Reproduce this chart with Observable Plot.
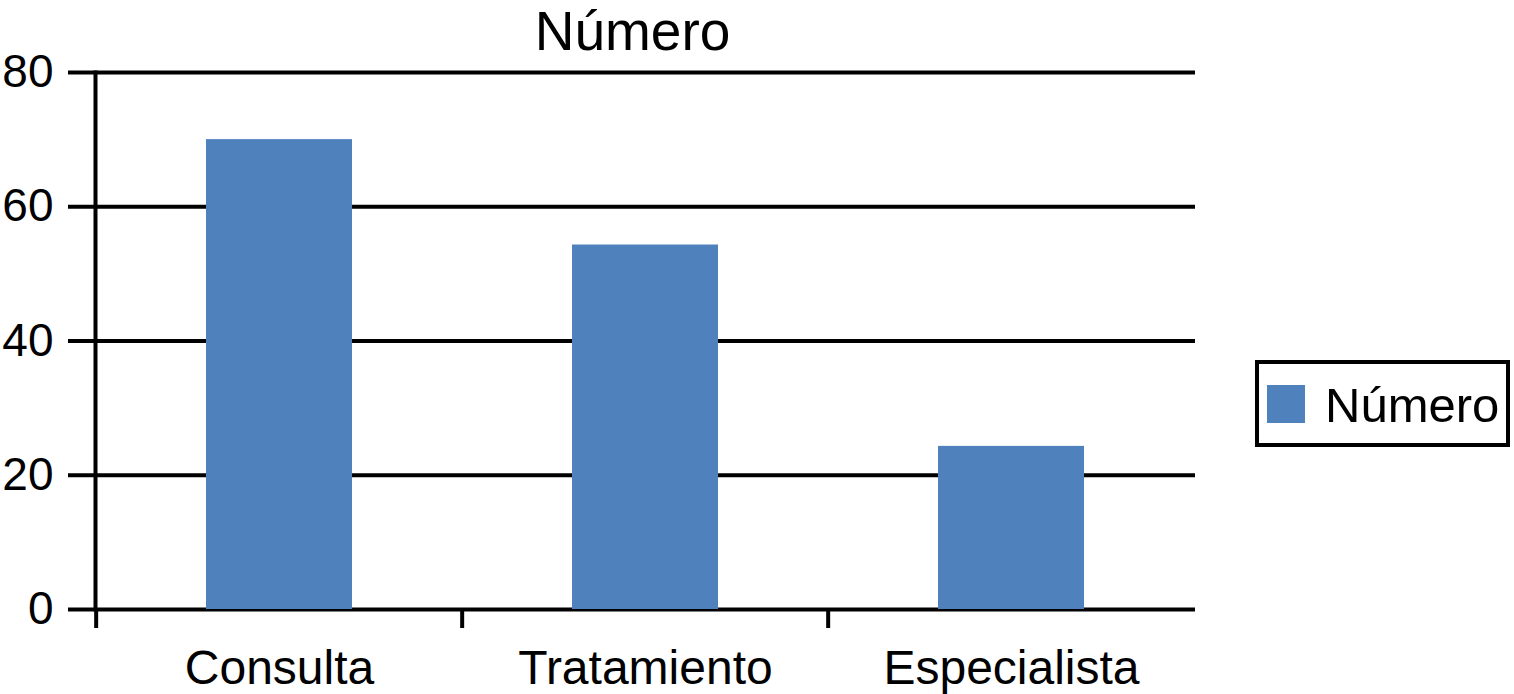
<!DOCTYPE html>
<html>
<head>
<meta charset="utf-8">
<script src="https://cdn.jsdelivr.net/npm/d3@7"></script>
<script src="https://cdn.jsdelivr.net/npm/@observablehq/plot@0.6"></script>
<style>
  html, body { margin: 0; padding: 0; background: #fff; }
  #wrap { position: relative; width: 1514px; height: 694px; font-family: "Liberation Sans", Arial, Helvetica, sans-serif; overflow: hidden; }
  #legend { position: absolute; left: 1255px; top: 360px; width: 247px; height: 79px; border: 4px solid #000; box-sizing: content-box; }
  #legend .sw { position: absolute; left: 8px; top: 21px; width: 38px; height: 38px; background: #4f81bd; }
  #legend .lb { position: absolute; left: 66px; top: 13px; font-size: 49px; line-height: 56px; color: #000; white-space: nowrap; }
</style>
</head>
<body>
<div id="wrap"></div>
<script>
const title = "Número";
const categories = ["Consulta", "Tratamiento", "Especialista"];
const values = [70, 54.3, 24.3];
const yTicks = [0, 20, 40, 60, 80];
const seriesName = "Número";

const data = categories.map((c, i) => ({category: c, value: values[i]}));

const W = 1514, H = 694;
const mL = 95, mR = 319, mT = 72, mB = 85;
const pInner = 0.6, pOuter = 0.3;
const step = (W - mL - mR) / (categories.length - pInner + 2 * pOuter);

const chart = Plot.plot({
  width: W,
  height: H,
  marginLeft: mL,
  marginRight: mR,
  marginTop: mT,
  marginBottom: mB,
  style: {fontFamily: '"Liberation Sans", Arial, Helvetica, sans-serif', background: "white", overflow: "visible"},
  x: {domain: categories, paddingInner: pInner, paddingOuter: pOuter, label: null},
  y: {domain: [0, 80], label: null},
  marks: [
    Plot.ruleY(yTicks, {stroke: "#000", strokeWidth: 4}),
    Plot.frame({anchor: "left", stroke: "#000", strokeWidth: 4}),
    Plot.barY(data, {x: "category", y: "value", fill: "#4f81bd"}),
    Plot.axisY({ticks: yTicks, tickSize: 27, tickPadding: 15, fontSize: 46, strokeWidth: 4, label: null, color: "#000"}),
    Plot.axisX({tickSize: 19, tickFormat: () => "", dx: -step / 2, strokeWidth: 4, label: null}),
    Plot.axisX({tickSize: 0, tickPadding: 40, fontSize: 48, label: null, color: "#000"}),
    Plot.text([title], {frameAnchor: "top", lineAnchor: "middle", dy: -40, dx: -13, fontSize: 55, fill: "#000"})
  ]
});

const wrap = document.getElementById("wrap");
wrap.appendChild(chart);
const legend = document.createElement("div");
legend.id = "legend";
legend.innerHTML = `<div class="sw"></div><div class="lb">${seriesName}</div>`;
wrap.appendChild(legend);
</script>
</body>
</html>
